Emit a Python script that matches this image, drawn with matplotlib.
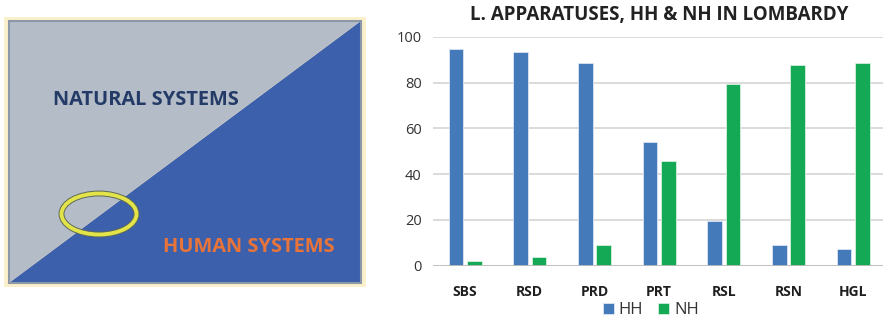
import matplotlib
matplotlib.use("Agg")
import matplotlib.pyplot as plt
from matplotlib.patches import Polygon, Rectangle, Ellipse
import numpy as np

categories = ["SBS", "RSD", "PRD", "PRT", "RSL", "RSN", "HGL"]
hh_values = [94.5, 93.2, 88.6, 54.0, 19.5, 8.9, 7.4]
nh_values = [2.0, 3.9, 9.0, 45.7, 79.2, 87.6, 88.5]
y_ticks = [0, 20, 40, 60, 80, 100]
series_names = ["HH", "NH"]
chart_title = "L. APPARATUSES, HH & NH IN LOMBARDY"
upper_label = "NATURAL SYSTEMS"
lower_label = "HUMAN SYSTEMS"

plt.rcParams["font.family"] = ["Open Sans", "DejaVu Sans"]

W, H = 883, 320
fig = plt.figure(figsize=(W / 100, H / 100), dpi=100)

# ---- left panel: natural vs human systems diagram (pixel coordinates) ----
pan = fig.add_axes([0, 0, 1, 1])
pan.set_xlim(0, W)
pan.set_ylim(H, 0)
pan.axis("off")

pan.add_patch(Rectangle((4, 17), 362, 270, facecolor="#FBF0CC", edgecolor="none"))
x0, y0, x1, y1 = 8.5, 21, 360.5, 283
pan.add_patch(Polygon([(x0, y0), (x1, y0), (x0, y1)], closed=True,
                      facecolor="#B3BCC7", edgecolor="none"))
pan.add_patch(Polygon([(x1, y0), (x1, y1), (x0, y1)], closed=True,
                      facecolor="#3D60AC", edgecolor="none"))
pan.add_patch(Rectangle((x0, y0), x1 - x0, y1 - y0, facecolor="none",
                        edgecolor="#8C97A8", linewidth=1.5))

pan.text(146, 100, upper_label, ha="center", va="center", fontsize=14.4,
         fontweight="bold", color="#243A67")
pan.text(249, 247, lower_label, ha="center", va="center", fontsize=14.4,
         fontweight="bold", color="#E8743A")

pan.add_patch(Ellipse((99, 214), 75, 41, facecolor="none",
                      edgecolor="#5E6A55", linewidth=4.2))
pan.add_patch(Ellipse((99, 214), 75, 41, facecolor="none",
                      edgecolor="#E3E34A", linewidth=2.8))

# ---- right panel: grouped bar chart ----
ax_left = 432.7 / W
ax_right = 885.5 / W
ax_bottom = (H - 265.7) / H
ax_top = (H - 36.7) / H
ax = fig.add_axes([ax_left, ax_bottom, ax_right - ax_left, ax_top - ax_bottom])

x = np.arange(len(categories))
bw = 0.225
off = 0.142
ax.bar(x - off, hh_values, bw, color="#4479BA", edgecolor="#DCE6F2",
       linewidth=0.6, zorder=3, label=series_names[0])
ax.bar(x + off, nh_values, bw, color="#13A955", edgecolor="#D6F0DF",
       linewidth=0.6, zorder=3, label=series_names[1])

ax.set_xlim(-0.5, len(categories) - 0.5)
ax.set_ylim(0, 100)
ax.set_yticks(y_ticks)
ax.set_yticklabels([str(v) for v in y_ticks])
ax.set_xticks(x)
ax.set_xticklabels(categories, fontweight="bold", fontsize=10, color="#1F1F1F")
ax.tick_params(axis="both", length=0)
ax.tick_params(axis="y", labelsize=10.5, labelcolor="#333333", pad=8)
ax.tick_params(axis="x", pad=14)
for s in ax.spines.values():
    s.set_visible(False)
ax.yaxis.grid(True, color="#D4D4D4", linewidth=1.2, zorder=0)
ax.axhline(0, color="#BDBDBD", linewidth=2, zorder=4)

fig.text(659 / W, 1 - 15 / H, chart_title, ha="center", va="center",
         fontsize=13.5, fontweight="bold", color="#222222")

handles, labels = ax.get_legend_handles_labels()
fig.legend(handles, labels, loc="center", bbox_to_anchor=(651 / W, 1 - 310 / H),
           ncol=2, frameon=False, fontsize=12, handlelength=0.65,
           handleheight=0.65, handletextpad=0.3, columnspacing=0.9,
           labelcolor="#333333", borderpad=0, borderaxespad=0)

fig.savefig("out.png", dpi=100)
